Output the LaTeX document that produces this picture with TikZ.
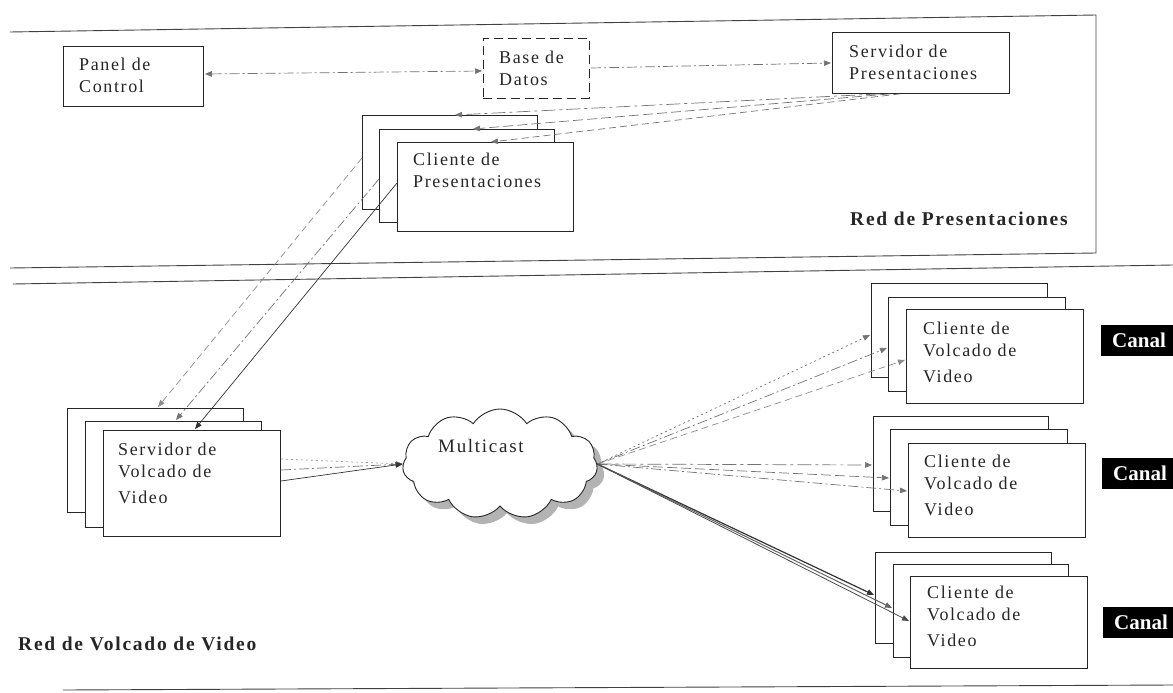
\documentclass[tikz,border=0pt]{standalone}
\usepackage{fontspec}
\setmainfont{Liberation Serif}
\newfontfamily\lsfont[LetterSpace=9]{Liberation Serif}
\usetikzlibrary{shapes.symbols,shadows,calc,arrows.meta}
\begin{document}
\begin{tikzpicture}[x=1pt,y=-1pt,
  box/.style={draw=black!85, line width=0.9pt, fill=white, anchor=north west, inner sep=0pt, rectangle},
  dbox/.style={box, dash pattern=on 9pt off 5pt},
  txt/.style={anchor=north west, inner sep=0pt, align=left, font=\lsfont\fontsize{18}{22.5}\selectfont, text=black!85},
  lbl/.style={anchor=base west, inner sep=0pt, font=\lsfont\bfseries\fontsize{19.5}{24}\selectfont, text=black!85},
  canal/.style={fill=black, text=white, anchor=north west, minimum height=31pt, text width=62pt, inner xsep=11pt, inner ysep=0pt, align=left, font=\bfseries\fontsize{21}{24}\selectfont},
  frame/.style={draw=black!75, line width=0.9pt},
  tip/.style={-{Triangle[length=7pt,width=5.5pt]}},
  link/.style={tip, line width=0.7pt, draw=black!55},
  dashdot/.style={dash pattern=on 10pt off 3pt on 2pt off 3pt},
  longdash/.style={dash pattern=on 14pt off 4pt on 3pt off 4pt},
  shortdash/.style={dash pattern=on 7pt off 4pt},
  meddash/.style={dash pattern=on 10pt off 4pt},
  dots/.style={dash pattern=on 2pt off 3pt},
  strong/.style={tip, line width=0.9pt, draw=black!80}
]
\useasboundingbox (0,0) rectangle (1173,693);

% frames
\draw[frame] (10,32) -- (1096,15) -- (1096,253) -- (10,268);
\draw[frame] (13,284) -- (1173,265);
\draw[frame] (63,690) -- (1173,685);

% labels
\node[lbl] (redp) at (850,225) {Red de Presentaciones};
\node[lbl] (redv) at (18,650) {Red de Volcado de Video};

% top boxes
\node[box, minimum width=140pt, minimum height=60pt] (pc) at (63,46) {};
\node[txt] (pct) at ($(pc.north west)+(16,8.25)$) {\strut Panel de\\Control};
\node[dbox, minimum width=106pt, minimum height=60pt] (db) at (483,38) {};
\node[txt] (dbt) at ($(db.north west)+(16,9.25)$) {\strut Base de\\Datos};
\node[box, minimum width=177pt, minimum height=61pt] (sp) at (832,32) {};
\node[txt] (spt) at ($(sp.north west)+(17,9.25)$) {\strut Servidor de\\Presentaciones};

% cliente de presentaciones stack
\node[box, minimum width=175pt, minimum height=94pt] (cp1) at (362,115) {};
\node[box, minimum width=175pt, minimum height=93pt] (cp2) at (379,129) {};
\node[box, minimum width=176pt, minimum height=89pt] (cp3) at (397,142) {};
\node[txt] (cpt) at ($(cp3.north west)+(16,7.25)$) {\strut Cliente de\\Presentaciones};

% servidor de volcado stack
\node[box, minimum width=176pt, minimum height=104pt] (sv1) at (67,408) {};
\node[box, minimum width=176pt, minimum height=106pt] (sv2) at (85,421) {};
\node[box, minimum width=177pt, minimum height=106pt] (sv3) at (103,430) {};
\node[txt] (svt) at ($(sv3.north west)+(15,9.25)$) {\strut Servidor de\\Volcado de\\[3.5pt]Video};

% clientes de volcado stacks
\node[box, minimum width=176pt, minimum height=94pt] (a1) at (871,283) {};
\node[box, minimum width=177pt, minimum height=94pt] (a2) at (888,297) {};
\node[box, minimum width=177pt, minimum height=94pt] (a3) at (906,309) {};
\node[txt] (at) at ($(a3.north west)+(17,9.25)$) {\strut Cliente de\\Volcado de\\[3.5pt]Video};

\node[box, minimum width=175pt, minimum height=95pt] (b1) at (873,416) {};
\node[box, minimum width=177pt, minimum height=96pt] (b2) at (890,429) {};
\node[box, minimum width=177pt, minimum height=94pt] (b3) at (908,443) {};
\node[txt] (bt) at ($(b3.north west)+(16,8.25)$) {\strut Cliente de\\Volcado de\\[3.5pt]Video};

\node[box, minimum width=176pt, minimum height=91pt] (c1) at (875,552) {};
\node[box, minimum width=175pt, minimum height=93pt] (c2) at (893,564) {};
\node[box, minimum width=177pt, minimum height=92pt] (c3) at (910,576) {};
\node[txt] (ct) at ($(c3.north west)+(17,6.25)$) {\strut Cliente de\\Volcado de\\[3.5pt]Video};

% canal tags
\node[canal] (k1) at (1101,325) {Canal};
\node[canal] (k2) at (1102,458) {Canal};
\node[canal] (k3) at (1103,607) {Canal};

% multicast cloud
\node[cloud, cloud puffs=11, cloud puff arc=115, draw=black!85, line width=0.9pt, fill=white,
      minimum width=195pt, minimum height=110pt, inner sep=0pt,
      drop shadow={shadow xshift=7pt, shadow yshift=-7pt, fill=black!50, opacity=0.6}] (mc) at (500,464) {};
\node[anchor=base west, inner sep=0pt, font=\lsfont\fontsize{19}{22}\selectfont, text=black!85] (mct) at (438,452) {Multicast};

% connectors, top network
\draw[link, dashdot, {Triangle[length=7pt,width=5.5pt]}-{Triangle[length=7pt,width=5.5pt]}]
  ($(pc.north east)+(1,28)$) -- ($(db.north west)+(-1,33)$);
\draw[link, dashdot] ($(db.north east)+(1,30)$) -- ($(sp.north west)+(-1,31)$);
\draw[link, longdash] ($(sp.south west)+(48,0)$) -- ($(cp1.north west)+(93,0)$);
\draw[link, meddash] ($(sp.south west)+(58,0)$) -- ($(cp2.north west)+(94,0)$);
\draw[link, shortdash] ($(sp.south west)+(68,0)$) -- ($(cp3.north west)+(94,0)$);

% clientes de presentaciones -> servidores de volcado
\draw[link, shortdash, draw=black!45] ($(cp1.north west)+(0,43)$) -- ($(sv1.north west)+(91,-1)$);
\draw[link, dashdot] ($(cp2.north west)+(0,50)$) -- ($(sv2.north west)+(91,-1)$);
\draw[strong, line width=0.7pt] ($(cp3.north west)+(0,41)$) -- ($(sv3.north west)+(92,-1)$);

% servidor de volcado -> multicast
\draw[link, dots, draw=black!40] ($(sv3.north east)+(0,29)$) -- (mc.west);
\draw[link, dashdot] ($(sv3.north east)+(0,40)$) -- (mc.west);
\draw[strong, line width=0.7pt] ($(sv3.north east)+(0,51)$) -- (mc.west);

% multicast -> clientes de volcado
\draw[link, dots] (mc.east) -- ($(a1.north west)+(-1,52)$);
\draw[link, dashdot] (mc.east) -- ($(a2.north west)+(-1,51)$);
\draw[link, shortdash, draw=black!45] (mc.east) -- ($(a3.north west)+(-1,51)$);

\draw[link, longdash] (mc.east) -- ($(b1.north west)+(-1,49)$);
\draw[link, meddash] (mc.east) -- ($(b2.north west)+(-1,49)$);
\draw[link, dashdot] (mc.east) -- ($(b3.north west)+(-1,48)$);

\draw[strong, line width=1.2pt] (mc.east) -- ($(c1.north west)+(-1,43)$);
\draw[strong, line width=1pt, draw=black!60] (mc.east) -- ($(c2.north west)+(-1,44)$);
\draw[strong, line width=0.8pt, draw=black!70] (mc.east) -- ($(c3.north west)+(-1,45)$);
\end{tikzpicture}
\end{document}
